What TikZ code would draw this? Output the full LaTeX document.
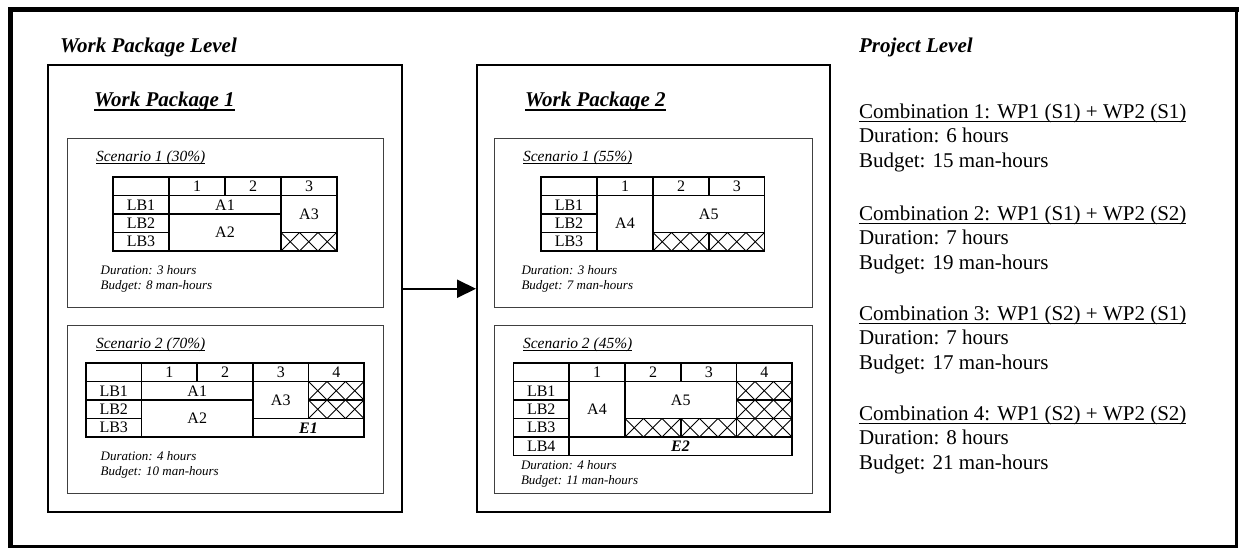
\documentclass[tikz,border=0pt]{standalone}
\usepackage{fontspec}
\setmainfont{Liberation Serif}
\usetikzlibrary{arrows.meta}
\tikzset{
  lbl/.style={inner sep=0pt, outer sep=0pt, anchor=base west},
  level/.style={lbl, font=\fontsize{21}{25}\selectfont\bfseries\itshape},
  wptitle/.style={lbl, font=\fontsize{21}{25}\selectfont\bfseries\itshape},
  scen/.style={lbl, font=\fontsize{15.5}{18}\selectfont\itshape},
  note/.style={lbl, font=\fontsize{13}{15}\selectfont\itshape},
  proj/.style={lbl, font=\fontsize{21}{25}\selectfont},
  cell/.style={inner sep=0pt, font=\fontsize{16}{19}\selectfont},
  ecell/.style={inner sep=0pt, font=\fontsize{16}{19}\selectfont\bfseries\itshape},
  wpbox/.style={draw, line width=2pt, inner sep=0pt},
  scbox/.style={draw=black!75, line width=1pt, inner sep=0pt},
  gridline/.style={line width=1.3pt},
  hatchline/.style={line width=0.9pt},
  ulthin/.style={line width=1pt},
  ulthick/.style={line width=1.8pt},
  flow/.style={line width=2pt, -{Triangle[length=19pt,width=18pt]}},
}
\newcommand\hatchcell[4]{%
  \begin{scope}
    \clip (#1,#2) rectangle (#3,#4);
    \pgfmathsetmacro\hh{#4-#2}
    \foreach \k in {-1,...,4} {
      \draw[hatchline] ({#1+\k*\hh},#2) -- ({#1+(\k+1)*\hh},#4);
      \draw[hatchline] ({#1+\k*\hh},#4) -- ({#1+(\k+1)*\hh},#2);
    }
  \end{scope}}
\newcommand\ulnode[2]{\draw[#2] ([yshift=-3.3pt]#1.base west) -- ([yshift=-3.3pt]#1.base east);}
\begin{document}
\begin{tikzpicture}[x=1pt,y=-1pt]
\useasboundingbox (0,0) rectangle (1239,548);
% outer frame
\draw[line width=3pt] (10.8,9.5) rectangle (1236.5,546);
\draw[line width=5pt, line cap=rect] (10.8,546) -- (10.8,9.5) -- (1236.5,9.5);

% level headings
\node[level] (wpl) at (60,53) {Work Package Level};
\node[level] (pl) at (859,53) {Project Level};

% work package boxes
\node[wpbox, minimum width=354pt, minimum height=446.5pt] (wp1) at (225,288.75) {};
\node[wpbox, minimum width=353pt, minimum height=446.5pt] (wp2) at (653.5,288.75) {};
\draw[flow] (wp1.east) -- (wp2.west);

\node[wptitle] (t1) at (94,107) {Work Package 1};
\ulnode{t1}{ulthick}
\node[wptitle] (t2) at (525,107) {Work Package 2};
\ulnode{t2}{ulthick}

% scenario boxes
\node[scbox, minimum width=316pt, minimum height=168pt] (s11) at (225,223) {};
\node[scbox, minimum width=316pt, minimum height=168pt] (s12) at (225,409) {};
\node[scbox, minimum width=318pt, minimum height=168pt] (s21) at (653,223) {};
\node[scbox, minimum width=318pt, minimum height=168pt] (s22) at (653,409) {};

\node[scen] (l11) at (96,161.7) {Scenario 1 (30\%)};
\draw[ulthin] ([yshift=-2.3pt]l11.base west) -- ([yshift=-2.3pt]l11.base east);
\node[scen] (l12) at (96,348.3) {Scenario 2 (70\%)};
\draw[ulthin] ([yshift=-2.3pt]l12.base west) -- ([yshift=-2.3pt]l12.base east);
\node[scen] (l21) at (523,161.7) {Scenario 1 (55\%)};
\draw[ulthin] ([yshift=-2.3pt]l21.base west) -- ([yshift=-2.3pt]l21.base east);
\node[scen] (l22) at (523,348.3) {Scenario 2 (45\%)};
\draw[ulthin] ([yshift=-2.3pt]l22.base west) -- ([yshift=-2.3pt]l22.base east);

\node[note] (d11) at (100.7,274.3) {Duration: 3 hours};
\node[note] (b11) at (100.7,289) {Budget: 8 man-hours};
\node[note] (d12) at (100.7,460) {Duration: 4 hours};
\node[note] (b12) at (100.7,475) {Budget: 10 man-hours};
\node[note] (d21) at (521.5,274.3) {Duration: 3 hours};
\node[note] (b21) at (521.5,289) {Budget: 7 man-hours};
\node[note] (d22) at (521,469) {Duration: 4 hours};
\node[note] (b22) at (521,484) {Budget: 11 man-hours};

% ---------- WP1 scenario 1 table ----------
\hatchcell{281}{232.5}{337}{251}
\draw[gridline] (113,177) rectangle (337,251);
\draw[gridline] (113,195.5) -- (337,195.5);
\draw[gridline] (169,177) -- (169,251);
\draw[gridline] (225,177) -- (225,195.5);
\draw[gridline] (281,177) -- (281,251);
\draw[gridline] (113,214) -- (281,214);
\draw[gridline] (113,232.5) -- (169,232.5) (281,232.5) -- (337,232.5);
\node[cell] (a1h1) at (197,186.25) {1};
\node[cell] (a1h2) at (253,186.25) {2};
\node[cell] (a1h3) at (309,186.25) {3};
\node[cell] (a1r1) at (141,204.75) {LB1};
\node[cell] (a1r2) at (141,223.25) {LB2};
\node[cell] (a1r3) at (141,241.75) {LB3};
\node[cell] (a1A1) at (225,204.75) {A1};
\node[cell] (a1A2) at (225,232.5) {A2};
\node[cell] (a1A3) at (309,214) {A3};

% ---------- WP1 scenario 2 table ----------
\hatchcell{308.5}{381.5}{364}{400}
\hatchcell{308.5}{400}{364}{418.5}
\draw[gridline] (86,363) rectangle (364,437);
\draw[gridline] (86,381.5) -- (364,381.5);
\draw[gridline] (141.5,363) -- (141.5,437);
\draw[gridline] (197,363) -- (197,381.5);
\draw[gridline] (253,363) -- (253,437);
\draw[gridline] (308.5,363) -- (308.5,418.5);
\draw[gridline] (86,400) -- (253,400) (308.5,400) -- (364,400);
\draw[gridline] (86,418.5) -- (141.5,418.5) (253,418.5) -- (364,418.5);
\node[cell] (b1h1) at (169.25,372.25) {1};
\node[cell] (b1h2) at (225,372.25) {2};
\node[cell] (b1h3) at (280.75,372.25) {3};
\node[cell] (b1h4) at (336.25,372.25) {4};
\node[cell] (b1r1) at (113.75,390.75) {LB1};
\node[cell] (b1r2) at (113.75,409.25) {LB2};
\node[cell] (b1r3) at (113.75,427.75) {LB3};
\node[cell] (b1A1) at (197.25,390.75) {A1};
\node[cell] (b1A2) at (197.25,418.5) {A2};
\node[cell] (b1A3) at (280.75,400) {A3};
\node[ecell] (b1E1) at (308.5,427.75) {E1};

% ---------- WP2 scenario 1 table ----------
\hatchcell{653}{232.5}{709}{251}
\hatchcell{709}{232.5}{764.5}{251}
\draw[gridline] (541,177) rectangle (764.5,251);
\draw[gridline] (541,195.5) -- (764.5,195.5);
\draw[gridline] (597,177) -- (597,251);
\draw[gridline] (653,177) -- (653,251);
\draw[gridline] (709,177) -- (709,195.5) (709,232.5) -- (709,251);
\draw[gridline] (541,214) -- (597,214);
\draw[gridline] (541,232.5) -- (597,232.5) (653,232.5) -- (764.5,232.5);
\node[cell] (c1h1) at (625,186.25) {1};
\node[cell] (c1h2) at (681,186.25) {2};
\node[cell] (c1h3) at (736.75,186.25) {3};
\node[cell] (c1r1) at (569,204.75) {LB1};
\node[cell] (c1r2) at (569,223.25) {LB2};
\node[cell] (c1r3) at (569,241.75) {LB3};
\node[cell] (c1A4) at (625,223.25) {A4};
\node[cell] (c1A5) at (708.75,214) {A5};

% ---------- WP2 scenario 2 table ----------
\hatchcell{736.5}{381.5}{792}{400}
\hatchcell{736.5}{400}{792}{418.5}
\hatchcell{625}{418.5}{681}{437}
\hatchcell{681}{418.5}{736.5}{437}
\hatchcell{736.5}{418.5}{792}{437}
\draw[gridline] (513.5,363) rectangle (792,455.5);
\draw[gridline] (513.5,381.5) -- (792,381.5);
\draw[gridline] (569,363) -- (569,455.5);
\draw[gridline] (625,363) -- (625,437);
\draw[gridline] (681,363) -- (681,381.5) (681,418.5) -- (681,437);
\draw[gridline] (736.5,363) -- (736.5,437);
\draw[gridline] (513.5,400) -- (569,400) (736.5,400) -- (792,400);
\draw[gridline] (513.5,418.5) -- (569,418.5) (625,418.5) -- (792,418.5);
\draw[gridline] (513.5,437) -- (792,437);
\node[cell] (d1h1) at (597,372.25) {1};
\node[cell] (d1h2) at (653,372.25) {2};
\node[cell] (d1h3) at (708.75,372.25) {3};
\node[cell] (d1h4) at (764.25,372.25) {4};
\node[cell] (d1r1) at (541.25,390.75) {LB1};
\node[cell] (d1r2) at (541.25,409.25) {LB2};
\node[cell] (d1r3) at (541.25,427.75) {LB3};
\node[cell] (d1r4) at (541.25,446.25) {LB4};
\node[cell] (d1A4) at (597,409.25) {A4};
\node[cell] (d1A5) at (680.75,400) {A5};
\node[ecell] (d1E2) at (680.5,446.25) {E2};

% ---------- project level ----------
\node[proj] (pc1) at (859,118.5) {Combination 1: WP1 (S1) + WP2 (S1)};
\ulnode{pc1}{ulthin}
\node[proj] (pd1) at (859,143) {Duration: 6 hours};
\node[proj] (pb1) at (859,168) {Budget: 15 man-hours};
\node[proj] (pc2) at (859,220) {Combination 2: WP1 (S1) + WP2 (S2)};
\ulnode{pc2}{ulthin}
\node[proj] (pd2) at (859,244.5) {Duration: 7 hours};
\node[proj] (pb2) at (859,269.5) {Budget: 19 man-hours};
\node[proj] (pc3) at (859,320) {Combination 3: WP1 (S2) + WP2 (S1)};
\ulnode{pc3}{ulthin}
\node[proj] (pd3) at (859,344.5) {Duration: 7 hours};
\node[proj] (pb3) at (859,369.5) {Budget: 17 man-hours};
\node[proj] (pc4) at (859,420) {Combination 4: WP1 (S2) + WP2 (S2)};
\ulnode{pc4}{ulthin}
\node[proj] (pd4) at (859,444.5) {Duration: 8 hours};
\node[proj] (pb4) at (859,469.5) {Budget: 21 man-hours};
\end{tikzpicture}
\end{document}
